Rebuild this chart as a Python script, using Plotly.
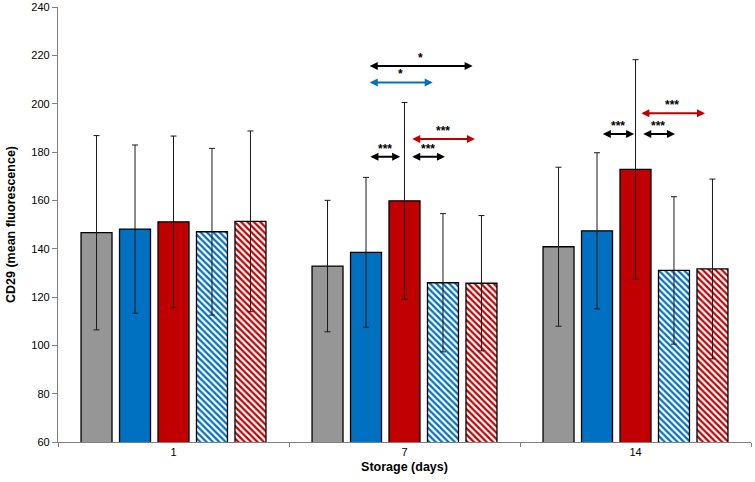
import plotly.graph_objects as go

# ---- data ----
days = ["1", "7", "14"]
x_pos = [0, 1, 2]

series_names = ["Series A", "Series B", "Series C", "Series D", "Series E"]
means = [
    [146.6, 132.8, 140.8],
    [148.1, 138.5, 147.4],
    [151.1, 159.8, 172.8],
    [147.0, 125.9, 131.0],
    [151.3, 125.7, 131.6],
]
errors = [
    [40.2, 27.2, 32.9],
    [34.8, 31.0, 32.3],
    [35.5, 40.7, 45.4],
    [34.5, 28.6, 30.5],
    [37.4, 28.0, 37.2],
]
colors = ["#969696", "#0070C0", "#C00000", "#0070C0", "#C00000"]
hatched = [False, False, False, True, True]

y_ticks = list(range(60, 241, 20))

# significance brackets: x start, x end, y, label, colour
sig_x0 = [0.843, 0.843, 1.027, 0.846, 1.027, 2.019, 1.852, 2.027]
sig_x1 = [1.295, 1.122, 1.305, 0.981, 1.175, 2.301, 1.994, 2.171]
sig_y = [215.6, 208.8, 185.4, 178.0, 178.0, 196.0, 187.4, 187.4]
sig_label = ["*", "*", "***", "***", "***", "***", "***", "***"]
sig_color = ["#000000", "#0070C0", "#C00000", "#000000", "#000000",
             "#C00000", "#000000", "#000000"]

FONT = "Liberation Sans, Arial"

fig = go.Figure()
for name, m, e, c, h in zip(series_names, means, errors, colors, hatched):
    if h:
        marker = dict(color="white",
                      line=dict(color="#000000", width=1.3),
                      pattern=dict(shape="\\", fgcolor=c, bgcolor="white",
                                   fgopacity=1, size=4.5, solidity=0.5,
                                   fillmode="replace"))
    else:
        marker = dict(color=c, line=dict(color="#000000", width=1.3))
    fig.add_trace(go.Bar(
        x=x_pos, y=m, name=name, marker=marker,
        error_y=dict(type="data", array=e, visible=True, color="#1a1a1a",
                     thickness=1, width=3),
        showlegend=False,
    ))

for x0, x1, y, lab, col in zip(sig_x0, sig_x1, sig_y, sig_label, sig_color):
    fig.add_annotation(x=x1, y=y, ax=x0, ay=y, xref="x", yref="y",
                       axref="x", ayref="y", text="", showarrow=True,
                       arrowhead=2, startarrowhead=2, arrowside="end+start",
                       arrowsize=0.8, startarrowsize=0.8, arrowwidth=2,
                       arrowcolor=col, standoff=0, startstandoff=0)
    fig.add_annotation(x=(x0 + x1) / 2, y=y, xref="x", yref="y",
                       text="<b>" + lab + "</b>",
                       showarrow=False, yshift=8,
                       font=dict(family=FONT, size=12, color="#000000"))

fig.update_layout(
    width=755, height=482,
    margin=dict(l=58, r=4, t=7, b=40),
    plot_bgcolor="white", paper_bgcolor="white",
    barmode="group", bargap=0.167, bargroupgap=0.195,
    font=dict(family=FONT, color="#000000"),
)
fig.update_xaxes(
    range=[-0.5, 2.5], tickvals=x_pos, ticktext=days, ticks="",
    tickprefix="<b>", ticksuffix="</b>",
    tickfont=dict(size=11, family=FONT), automargin=False,
    showline=True, linecolor="#808080", linewidth=1.3, showgrid=False,
    zeroline=False,
    minor=dict(tickvals=[-0.5, 0.5, 1.5, 2.5], ticks="outside", ticklen=4,
               tickcolor="#808080", showgrid=False),
    title=dict(text="<b>Storage (days)</b>", font=dict(size=12.5), standoff=4),
)
fig.update_yaxes(
    range=[60, 240], tickvals=y_ticks, ticks="outside", ticklen=5,
    tickcolor="#808080", tickfont=dict(size=11), automargin=False,
    ticklabeloverflow="allow",
    tickprefix="<b>", ticksuffix="</b>",
    showline=True, linecolor="#808080", linewidth=1.3, showgrid=False,
    zeroline=False,
    title=dict(text="<b>CD29 (mean fluorescence)</b>", font=dict(size=12.5),
               standoff=12),
)

fig.write_html("out.html",
               config={"displayModeBar": False},
               post_script="document.body.style.margin='0';")
